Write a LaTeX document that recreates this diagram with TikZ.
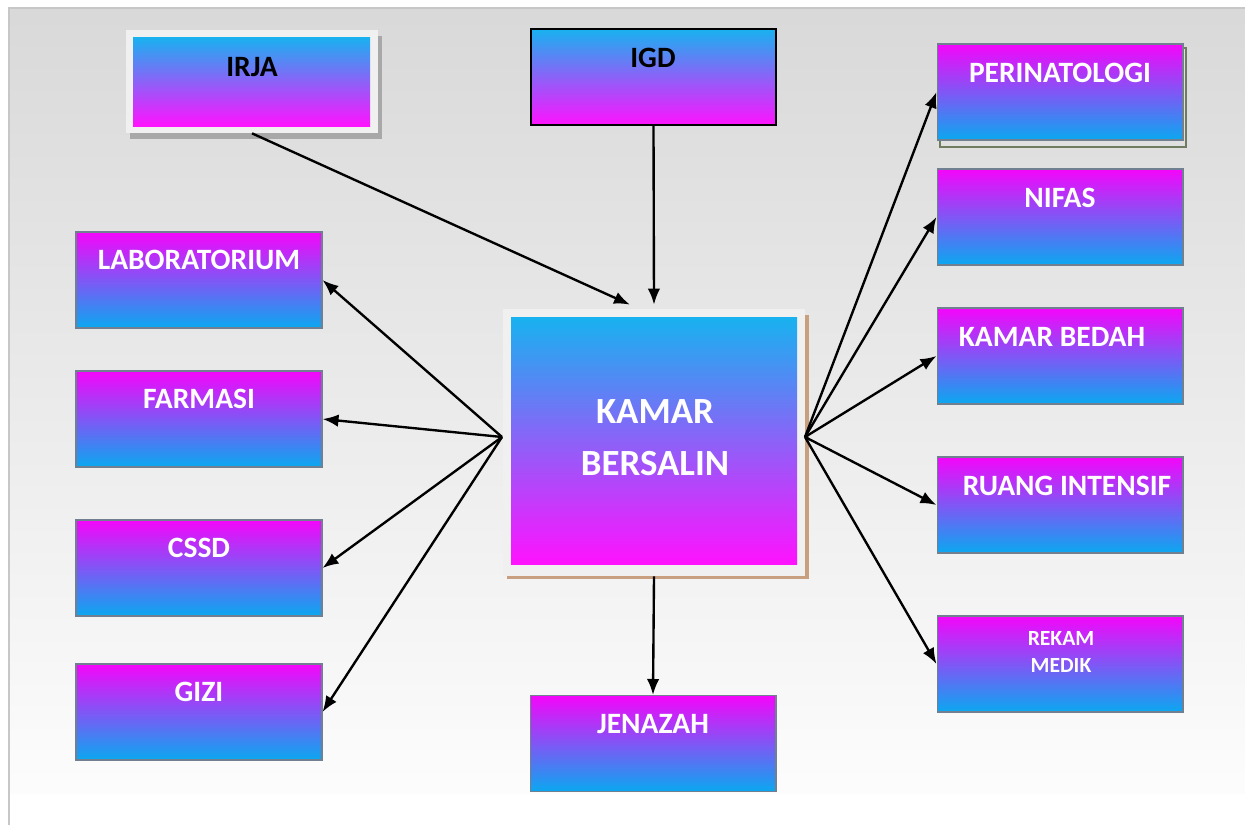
\documentclass[tikz,border=0pt]{standalone}
\usepackage{fontspec}
\setmainfont{Carlito}
\usetikzlibrary{arrows.meta, positioning}
\definecolor{boxpink}{RGB}{245,5,250}
\definecolor{boxcyan}{RGB}{10,168,240}
\definecolor{hubcyan}{RGB}{24,178,240}
\definecolor{hubmid}{RGB}{168,130,245}
\definecolor{hubpink}{RGB}{255,18,255}
\definecolor{framegrey}{RGB}{240,240,240}
\definecolor{shadegrey}{RGB}{168,168,168}
\definecolor{shadebrown}{RGB}{200,160,128}
\definecolor{shadeolive}{RGB}{110,125,95}
\definecolor{edgegrey}{RGB}{112,128,144}

\begin{document}
\begin{tikzpicture}[x=0.02cm, y=-0.02cm,
    unitbox/.style={draw=edgegrey, line width=0.6pt, top color=boxpink, bottom color=boxcyan,
      minimum width=4.92cm, minimum height=1.92cm, inner sep=0pt},
    boxtext/.style={text=white, font=\bfseries\fontsize{16.8}{19}\selectfont, align=center},
    arr/.style={line width=1.35pt, -{Latex[length=0.32cm, width=0.25cm]}}]
  \useasboundingbox (0,0) rectangle (1245,825);
  % backdrop
  \shade[top color=black!15, bottom color=black!1] (9,8) rectangle (1245,793);
  \draw[black!22, line width=1.2pt] (9,825) -- (9,8) -- (1245,8);

  % IRJA and IGD
  \fill[shadegrey] (130,36) rectangle (382,139);
  \node[fill=framegrey, minimum width=5.04cm, minimum height=2.06cm, inner sep=0pt] (irja) at (252,81.5) {};
  \shade[top color=hubcyan, bottom color=hubpink] (133,37) rectangle (370,126);
  \node[boxtext, text=black] (irja-t) at (252,67) {IRJA};
  \node[draw=black, line width=1.2pt, top color=hubcyan, bottom color=hubpink,
    minimum width=4.9cm, minimum height=1.92cm, inner sep=0pt] (igd) at (653.5,77) {};
  \node[boxtext, text=black] (igd-t) at (653,58) {IGD};

  % kamar bersalin
  \fill[shadebrown] (507,315) rectangle (809,579);
  \node[fill=framegrey, minimum width=6.04cm, minimum height=5.34cm, inner sep=0pt] (kb) at (654,442.5) {};
  \shade[top color=hubcyan, middle color=hubmid, bottom color=hubpink] (511,317) rectangle (797,564);
  \node[boxtext, font=\bfseries\fontsize{21}{29.5}\selectfont] (kb-t) at (655,438) {KAMAR\\BERSALIN};
  \coordinate (hubL) at (502,437);
  \coordinate (hubR) at (805,437);

  % left column
  \foreach \nm/\yc/\txt in {lab/280/LABORATORIUM, farmasi/419/FARMASI, cssd/568/CSSD, gizi/712/GIZI}{
    \node[unitbox, label={[boxtext, anchor=center, yshift=-0.56cm]north:\txt}] (\nm) at (199,\yc) {};
  }
  % right column
  \fill[black!12, draw=shadeolive, line width=0.8pt] (940,48) rectangle (1186,147);
  \foreach \nm/\yc/\dx/\txt in {peri/92/0/PERINATOLOGI, nifas/217/0/NIFAS, bedah/356/-8/KAMAR BEDAH, intensif/505/7/RUANG INTENSIF}{
    \node[unitbox, label={[boxtext, anchor=center, xshift=\dx*0.02cm, yshift=-0.58cm]north:\txt}] (\nm) at (1060,\yc) {};
  }
  \node[unitbox] (rekam) at (1060,664) {};
  \node[boxtext, font=\bfseries\fontsize{12.3}{15.5}\selectfont] (rekam-t) at (1061,652) {REKAM\\MEDIK};
  \node[unitbox, label={[boxtext, anchor=center, yshift=-0.58cm]north:JENAZAH}] (jenazah) at (653,743.5) {};

  % connectors
  \draw[arr] (irja.south) -- ([xshift=-0.48cm, yshift=0.08cm]kb.north);
  \draw[arr] (igd.south) -- ([yshift=0.08cm]kb.north);
  \foreach \nm in {lab, farmasi, cssd, gizi}
    \draw[arr] (hubL) -- (\nm.east);
  \foreach \nm in {peri, nifas, bedah, intensif, rekam}
    \draw[arr] (hubR) -- (\nm.west);
  \draw[arr] (kb.south) -- (jenazah.north);
\end{tikzpicture}
\end{document}
